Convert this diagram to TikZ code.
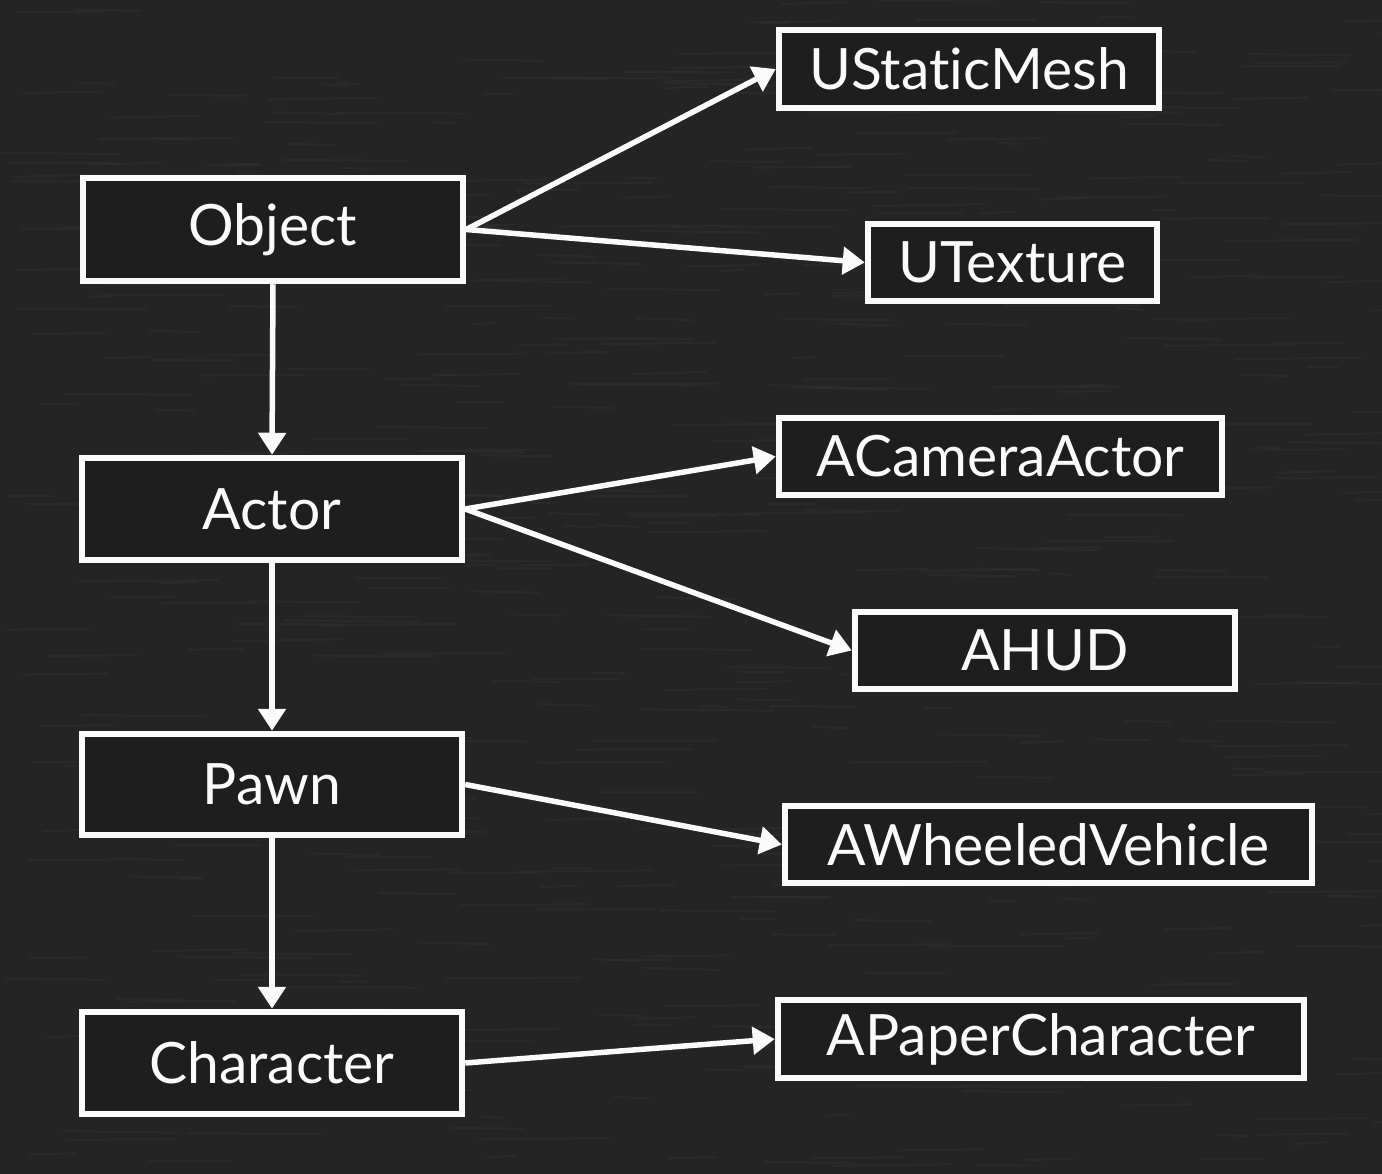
\documentclass[tikz,border=0pt]{standalone}
\usepackage{fontspec}
\setmainfont{Lato}[Ligatures=NoCommon]
\usetikzlibrary{arrows.meta}
\definecolor{board}{HTML}{242424}
\definecolor{boxfill}{HTML}{1E1E1E}
\definecolor{chalk}{HTML}{FAFAFA}
\definecolor{streak}{HTML}{333333}
\tikzset{
  cbox/.style={draw=chalk, line width=6.5pt, fill=boxfill, inner sep=0pt,
    text=chalk, font=\fontsize{57}{70}\selectfont},
  link/.style={draw=chalk, line width=5.5pt, -{Triangle[length=22pt,width=27pt]}},
}
\begin{document}
\begin{tikzpicture}[x=1pt,y=1pt]
\fill[board] (0,0) rectangle (1382,-1174);
\useasboundingbox (0,0) rectangle (1382,-1174);
\pgfmathsetseed{7}
\foreach \i in {1,...,500}{
  \pgfmathsetmacro{\xx}{rnd*1382}
  \pgfmathsetmacro{\yy}{-rnd*1174}
  \pgfmathsetmacro{\ll}{20+rnd*120}
  \draw[streak, line width=2pt, opacity=0.45, line cap=round] (\xx,\yy) -- ++(\ll,rnd*4-2);
}
\node[cbox, minimum width=380pt, minimum height=103pt] (object) at (273,-229.5) {Object};
\node[cbox, minimum width=380pt, minimum height=102pt] (actor) at (272,-509) {Actor};
\node[cbox, minimum width=380pt, minimum height=101pt] (pawn) at (272,-784.5) {Pawn};
\node[cbox, minimum width=380pt, minimum height=102pt] (character) at (272,-1063) {Character};
\node[cbox, minimum width=380pt, minimum height=78pt] (mesh) at (969,-69) {UStaticMesh};
\node[cbox, minimum width=289pt, minimum height=77pt] (texture) at (1012.5,-262.5) {UTexture};
\node[cbox, minimum width=443pt, minimum height=77pt] (camera) at (1000.5,-456.5) {ACameraActor};
\node[cbox, minimum width=380pt, minimum height=77pt] (hud) at (1045,-650.5) {AHUD};
\node[cbox, minimum width=527pt, minimum height=77pt] (vehicle) at (1048.5,-844.5) {AWheeledVehicle};
\node[cbox, minimum width=526pt, minimum height=78pt] (paper) at (1041,-1039) {APaperCharacter};
\draw[link] (object.south) -- (actor.north);
\draw[link] (actor.south) -- (pawn.north);
\draw[link] (pawn.south) -- (character.north);
\draw[link] (object.east) -- (mesh.west);
\draw[link] (object.east) -- (texture.west);
\draw[link] (actor.east) -- (camera.west);
\draw[link] (actor.east) -- (hud.west);
\draw[link] (pawn.east) -- (vehicle.west);
\draw[link] (character.east) -- (paper.west);
\end{tikzpicture}
\end{document}
